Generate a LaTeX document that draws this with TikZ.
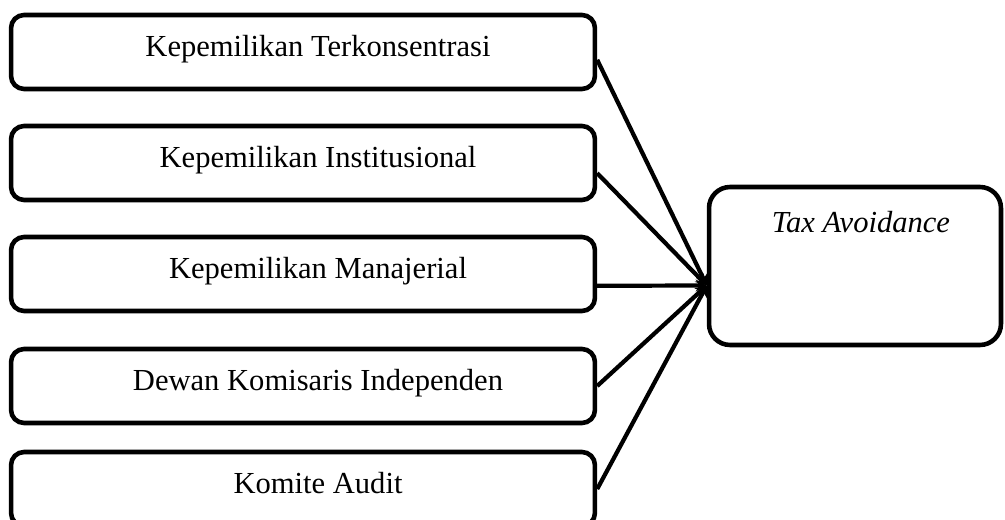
\documentclass[tikz,border=0pt]{standalone}
\usepackage{fontspec}
\setmainfont{Liberation Serif}
\usetikzlibrary{arrows.meta,calc}
\tikzset{
  link/.style={-{Stealth[length=2.2mm,width=2.4mm]}, line width=2.4pt, draw=black},
  roundbox/.style={rectangle, draw=black, line width=2.6pt, fill=white, align=center, inner xsep=0pt, inner ysep=0pt},
  varbox/.style={roundbox, rounded corners=0.26cm, minimum width=11.68cm, text height=0.84cm, text depth=0.64cm,
    font=\fontsize{17.4}{20}\selectfont, execute at begin node={\hspace*{0.6cm}}},
  depbox/.style={roundbox, rounded corners=0.42cm, minimum width=5.84cm, text height=0.9cm, text depth=2.26cm,
    font=\fontsize{17.4}{20}\selectfont\itshape, execute at begin node={\hspace*{0.24cm}}}
}
\begin{document}
\begin{tikzpicture}[x=0.02cm, y=-0.02cm]
  \useasboundingbox (0,0) rectangle (1005,520);
  % independent variables
  \node[varbox] (kt) at (303,52) {Kepemilikan Terkonsentrasi};
  \node[varbox] (ki) at (303,163) {Kepemilikan Institusional};
  \node[varbox] (km) at (303,274) {Kepemilikan Manajerial};
  \node[varbox] (dki) at (303,386) {Dewan Komisaris Independen};
  \node[varbox] (ka) at (303,489) {Komite Audit};
  % dependent variable
  \node[depbox] (tax) at (855,266) {Tax Avoidance};
  \coordinate (hub) at ($(tax.north west)!0.62!(tax.south west)$);

  \draw[link] ($(kt.north east)!0.6!(kt.south east)$) -- (hub);
  \draw[link] ($(ki.north east)!0.63!(ki.south east)$) -- (hub);
  \draw[link] ($(km.north east)!0.65!(km.south east)$) -- (hub);
  \draw[link] (dki.east) -- (hub);
  \draw[link] (ka.east) -- (hub);
\end{tikzpicture}
\end{document}
